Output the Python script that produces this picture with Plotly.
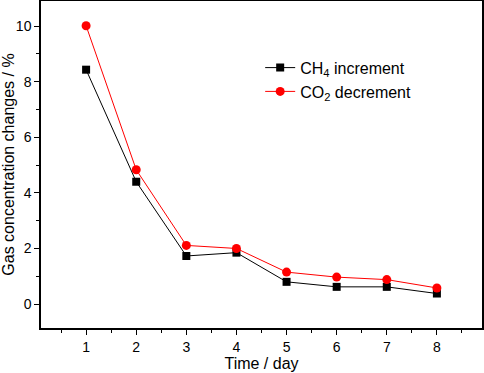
import plotly.graph_objects as go

days = [1, 2, 3, 4, 5, 6, 7, 8]
ch4_increment = [8.43, 4.40, 1.73, 1.85, 0.80, 0.62, 0.62, 0.38]
co2_decrement = [10.01, 4.83, 2.11, 2.00, 1.15, 0.97, 0.88, 0.58]
x_ticks = [1, 2, 3, 4, 5, 6, 7, 8]
y_ticks = [0, 2, 4, 6, 8, 10]

fig = go.Figure()
fig.add_trace(go.Scatter(
    x=days, y=ch4_increment, mode="lines+markers", name="CH<sub>4</sub> increment",
    line=dict(color="black", width=1),
    marker=dict(symbol="square", size=8, color="black")))
fig.add_trace(go.Scatter(
    x=days, y=co2_decrement, mode="lines+markers", name="CO<sub>2</sub> decrement",
    line=dict(color="#ff0000", width=1),
    marker=dict(symbol="circle", size=9, color="#ff0000")))

axis_common = dict(showgrid=False, zeroline=False, showline=True, linecolor="black",
                   linewidth=1.5, mirror=True, ticks="outside", tickwidth=1.2,
                   ticklen=5, tickcolor="black", automargin=False,
                   tickfont=dict(family="Liberation Sans, Arial", size=14, color="black"))

fig.update_layout(
    width=484, height=373,
    margin=dict(l=41, r=2, t=1, b=45, autoexpand=False),
    paper_bgcolor="white", plot_bgcolor="white",
    font=dict(family="Liberation Sans, Arial", color="black"),
    xaxis=dict(range=[0.1, 8.9], tickvals=x_ticks,
               minor=dict(tickvals=[0.5 + i for i in range(9)], ticks="outside", ticklen=3, tickwidth=1.2, tickcolor="black"),
               title=dict(text="Time / day", font=dict(size=16), standoff=0),
               **axis_common),
    yaxis=dict(range=[-0.86, 10.9], tickvals=y_ticks,
               minor=dict(tickvals=[1, 3, 5, 7, 9], ticks="outside", ticklen=3, tickwidth=1.2, tickcolor="black"),
               title=dict(text="Gas concentration changes / %", font=dict(size=16), standoff=2),
               **axis_common),
    legend=dict(x=0.497, y=0.848, xanchor="left", yanchor="top",
                bgcolor="rgba(0,0,0,0)", font=dict(size=16),
                tracegroupgap=2),
    showlegend=True,
)

fig.write_html("out.html", config={"displayModeBar": False},
               post_script="document.body.style.margin='0';document.body.style.overflow='hidden';")
